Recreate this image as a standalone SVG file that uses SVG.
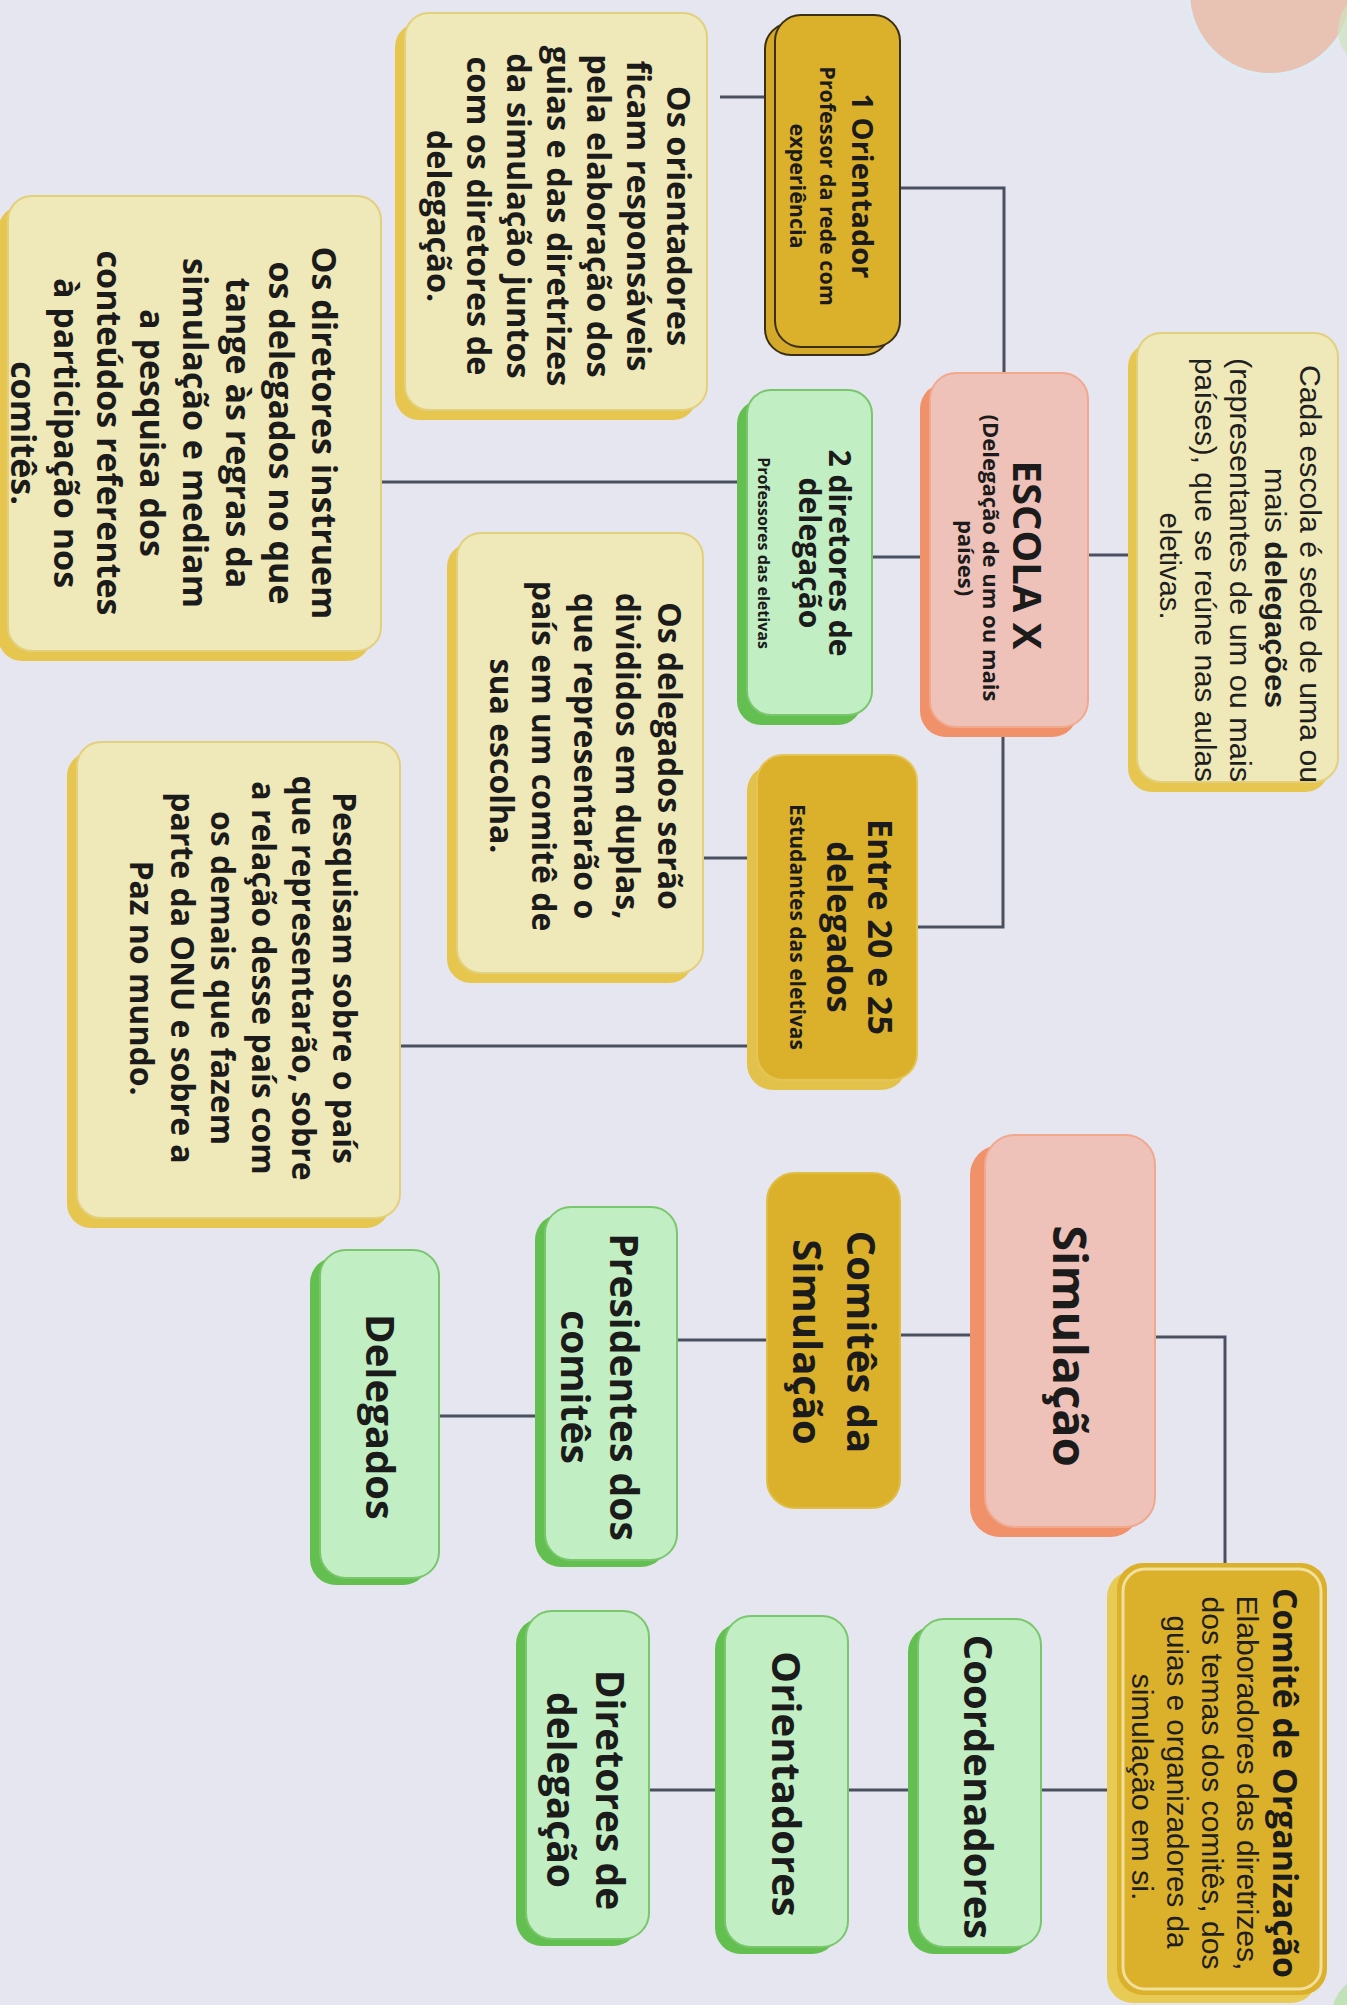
<svg xmlns="http://www.w3.org/2000/svg" width="1347" height="2005" viewBox="0 0 1347 2005">
<style>
.t{font-family:"Open Sans","Noto Sans","DejaVu Sans",sans-serif;fill:#1b1b1b;text-anchor:middle}
.n{font-family:"Liberation Sans Narrow","Liberation Sans","Arial",sans-serif;fill:#1f1f1f;text-anchor:middle;font-weight:400}
.b{font-weight:700}
.con{fill:none;stroke:#4b5060;stroke-width:3}
.y-sh{fill:#e6c64e}
.y-bd{fill:#efe8b8;stroke:#e2d07c;stroke-width:2}
.g-sh{fill:#63bf4f}
.g-bd{fill:#c2eec3;stroke:#79c76c;stroke-width:2}
.p-sh{fill:#f0916a}
.p-bd{fill:#efc2b9;stroke:#f0a98e;stroke-width:2}
.o-sh{fill:#e3c24c}
.o-bd{fill:#dbb02b;stroke:#e6c558;stroke-width:2}
.k-sh{fill:#d4a92a;stroke:#3a2f12;stroke-width:2}
.k-bd{fill:#dbb02b;stroke:#3a2f12;stroke-width:2}
</style>
<rect x="0" y="0" width="1347" height="2005" fill="#e5e6f0"/>
<g id="decor">
<circle cx="1270" cy="-7" r="84" fill="#dfeaf2"/>
<circle cx="1270" cy="-7" r="80" fill="#e8c3b3"/>
<circle cx="1378" cy="30" r="40" fill="#cfe3bd" opacity="0.7"/>
<circle cx="1372" cy="2015" r="40" fill="#b9e0aa" opacity="0.8"/>
</g>
<g id="connectors">
<path class="con" d="M720,97 H765"/>
<path class="con" d="M900,188 H1004 V373"/>
<path class="con" d="M1088,555 H1128"/>
<path class="con" d="M872,557 H920"/>
<path class="con" d="M381,482 H737"/>
<path class="con" d="M1003,727 V927 H917"/>
<path class="con" d="M703,858 H747"/>
<path class="con" d="M400,1046 H747"/>
<path class="con" d="M1155,1337 H1225 V1563"/>
<path class="con" d="M900,1335 H970"/>
<path class="con" d="M677,1340 H767"/>
<path class="con" d="M439,1416 H535"/>
<path class="con" d="M1041,1790 H1107"/>
<path class="con" d="M848,1790 H908"/>
<path class="con" d="M649,1790 H715"/>
</g>
<g id="n-orientador">
<rect class="k-sh" x="765" y="23" width="125" height="332" rx="26"/>
<rect class="k-bd" x="775" y="15" width="125" height="332" rx="26"/>
<text class="t b" font-size="29" transform="translate(852,186) rotate(90)">1 Orientador</text>
<text class="t b" font-size="21.5" transform="translate(820,186) rotate(90)"><tspan x="0" dy="0">Professor da rede com</tspan><tspan x="0" dy="30">experiência</tspan></text>
</g>
<g id="n-os-orientadores">
<rect class="y-sh" x="395" y="23" width="302" height="397" rx="24"/>
<rect class="y-bd" x="405" y="13" width="302" height="397" rx="24"/>
<text class="t b" font-size="32.5" transform="translate(667,216) rotate(90)"><tspan x="0" dy="0">Os orientadores</tspan><tspan x="0" dy="40">ficam responsáveis</tspan><tspan x="0" dy="40">pela elaboração dos</tspan><tspan x="0" dy="40">guias e das diretrizes</tspan><tspan x="0" dy="40">da simulação juntos</tspan><tspan x="0" dy="40">com os diretores de</tspan><tspan x="0" dy="40">delegação.</tspan></text>
</g>
<g id="n-os-diretores">
<rect class="y-sh" x="-2" y="206" width="373" height="455" rx="24"/>
<rect class="y-bd" x="8" y="196" width="373" height="455" rx="24"/>
<text class="t b" font-size="34" transform="translate(312,433) rotate(90)"><tspan x="0" dy="0">Os diretores instruem</tspan><tspan x="0" dy="43">os delegados no que</tspan><tspan x="0" dy="43">tange às regras da</tspan><tspan x="0" dy="43">simulação e mediam</tspan><tspan x="0" dy="43">a pesquisa dos</tspan><tspan x="0" dy="43">conteúdos referentes</tspan><tspan x="0" dy="43">à participação nos</tspan><tspan x="0" dy="43">comitês.</tspan></text>
</g>
<g id="n-escola">
<rect class="p-sh" x="920" y="383" width="158" height="354" rx="26"/>
<rect class="p-bd" x="930" y="373" width="158" height="354" rx="26"/>
<text class="t b" font-size="40" transform="translate(1013,555) rotate(90)">ESCOLA X</text>
<text class="t b" font-size="22" transform="translate(983,558) rotate(90)"><tspan x="0" dy="0">(Delegação de um ou mais</tspan><tspan x="0" dy="25">países)</tspan></text>
</g>
<g id="n-cada-escola">
<rect class="y-sh" x="1128" y="343" width="201" height="449" rx="24"/>
<rect class="y-bd" x="1137" y="333" width="201" height="449" rx="24"/>
<g class="n" font-size="30">
<text transform="translate(1300,574) rotate(90)" textLength="418" lengthAdjust="spacingAndGlyphs">Cada escola é sede de uma ou</text>
<text transform="translate(1265,588) rotate(90)" textLength="240" lengthAdjust="spacingAndGlyphs">mais <tspan font-weight="700">delegações</tspan></text>
<text transform="translate(1230,570) rotate(90)" textLength="424" lengthAdjust="spacingAndGlyphs">(representantes de um ou mais</text>
<text transform="translate(1195,570) rotate(90)" textLength="424" lengthAdjust="spacingAndGlyphs">países), que se reúne nas aulas</text>
<text transform="translate(1160,566) rotate(90)" textLength="107" lengthAdjust="spacingAndGlyphs">eletivas.</text>
</g>
</g>
<g id="n-2-diretores">
<rect class="g-sh" x="737" y="400" width="125" height="325" rx="24"/>
<rect class="g-bd" x="747" y="390" width="125" height="325" rx="24"/>
<text class="t b" font-size="30" transform="translate(829,553) rotate(90)"><tspan x="0" dy="0">2 diretores de</tspan><tspan x="0" dy="30">delegação</tspan></text>
<text class="t b" font-size="16" transform="translate(758,553) rotate(90)">Professores das eletivas</text>
</g>
<g id="n-os-delegados">
<rect class="y-sh" x="447" y="543" width="246" height="440" rx="24"/>
<rect class="y-bd" x="457" y="533" width="246" height="440" rx="24"/>
<text class="t b" font-size="32" transform="translate(658,756) rotate(90)"><tspan x="0" dy="0">Os delegados serão</tspan><tspan x="0" dy="42">divididos em duplas,</tspan><tspan x="0" dy="42">que representarão o</tspan><tspan x="0" dy="42">país em um comitê de</tspan><tspan x="0" dy="42">sua escolha.</tspan></text>
</g>
<g id="n-entre">
<rect class="o-sh" x="747" y="765" width="160" height="325" rx="26"/>
<rect class="o-bd" x="757" y="755" width="160" height="325" rx="26"/>
<text class="t b" font-size="34" transform="translate(868,927) rotate(90)"><tspan x="0" dy="0">Entre 20 e 25</tspan><tspan x="0" dy="41">delegados</tspan></text>
<text class="t b" font-size="21" transform="translate(790,927) rotate(90)">Estudantes das eletivas</text>
</g>
<g id="n-pesquisam">
<rect class="y-sh" x="67" y="752" width="323" height="476" rx="24"/>
<rect class="y-bd" x="77" y="742" width="323" height="476" rx="24"/>
<text class="t b" font-size="32" transform="translate(333,978) rotate(90)"><tspan x="0" dy="0">Pesquisam sobre o país</tspan><tspan x="0" dy="40.6">que representarão, sobre</tspan><tspan x="0" dy="40.6">a relação desse país com</tspan><tspan x="0" dy="40.6">os demais que fazem</tspan><tspan x="0" dy="40.6">parte da ONU e sobre a</tspan><tspan x="0" dy="40.6">Paz no mundo.</tspan></text>
</g>
<g id="n-simulacao">
<rect class="p-sh" x="970" y="1145" width="170" height="392" rx="30"/>
<rect class="p-bd" x="985" y="1135" width="170" height="392" rx="30"/>
<text class="t b" font-size="47" transform="translate(1053,1346) rotate(90)">Simulação</text>
</g>
<g id="n-comites-simulacao">
<rect x="767" y="1173" width="133" height="335" rx="28" fill="#dbb02b" stroke="#e0bd44" stroke-width="2"/>
<text class="t b" font-size="40" transform="translate(847,1342) rotate(90)"><tspan x="0" dy="0">Comitês da</tspan><tspan x="0" dy="54">Simulação</tspan></text>
</g>
<g id="n-presidentes">
<rect class="g-sh" x="535" y="1214" width="132" height="353" rx="26"/>
<rect class="g-bd" x="545" y="1207" width="132" height="353" rx="26"/>
<text class="t b" font-size="39" transform="translate(610,1387) rotate(90)"><tspan x="0" dy="0">Presidentes dos</tspan><tspan x="0" dy="49">comitês</tspan></text>
</g>
<g id="n-delegados">
<rect class="g-sh" x="310" y="1257" width="119" height="328" rx="26"/>
<rect class="g-bd" x="320" y="1250" width="119" height="328" rx="26"/>
<text class="t b" font-size="40" transform="translate(366,1417) rotate(90)">Delegados</text>
</g>
<g id="n-comite-org">
<rect x="1107" y="1571" width="210" height="432" rx="26" fill="#e8cb55"/>
<rect x="1117" y="1563" width="210" height="432" rx="26" fill="#dbb02b"/>
<rect x="1123" y="1569" width="198" height="420" rx="22" fill="none" stroke="#f1df9c" stroke-width="3"/>
<text class="t b" font-size="34" transform="translate(1273,1783) rotate(90)" textLength="390" lengthAdjust="spacingAndGlyphs" fill="#221c08">Comitê de Organização</text>
<g class="n" font-size="30" fill="#2a230c">
<text transform="translate(1237,1783) rotate(90)" textLength="375" lengthAdjust="spacingAndGlyphs">Elaboradores das diretrizes,</text>
<text transform="translate(1202,1783) rotate(90)" textLength="373" lengthAdjust="spacingAndGlyphs">dos temas dos comitês, dos</text>
<text transform="translate(1167,1782) rotate(90)" textLength="333" lengthAdjust="spacingAndGlyphs">guias e organizadores da</text>
<text transform="translate(1132,1787) rotate(90)" textLength="227" lengthAdjust="spacingAndGlyphs">simulação em si.</text>
</g>
</g>
<g id="n-coordenadores">
<rect class="g-sh" x="908" y="1626" width="123" height="328" rx="26"/>
<rect class="g-bd" x="918" y="1619" width="123" height="328" rx="26"/>
<text class="t b" font-size="40" transform="translate(964,1787) rotate(90)">Coordenadores</text>
</g>
<g id="n-orientadores">
<rect class="g-sh" x="715" y="1623" width="123" height="331" rx="26"/>
<rect class="g-bd" x="725" y="1616" width="123" height="331" rx="26"/>
<text class="t b" font-size="40" transform="translate(772,1784) rotate(90)">Orientadores</text>
</g>
<g id="n-diretores-delegacao">
<rect class="g-sh" x="516" y="1618" width="123" height="328" rx="26"/>
<rect class="g-bd" x="526" y="1611" width="123" height="328" rx="26"/>
<text class="t b" font-size="39" transform="translate(596,1790) rotate(90)"><tspan x="0" dy="0">Diretores de</tspan><tspan x="0" dy="49">delegação</tspan></text>
</g>
</svg>
